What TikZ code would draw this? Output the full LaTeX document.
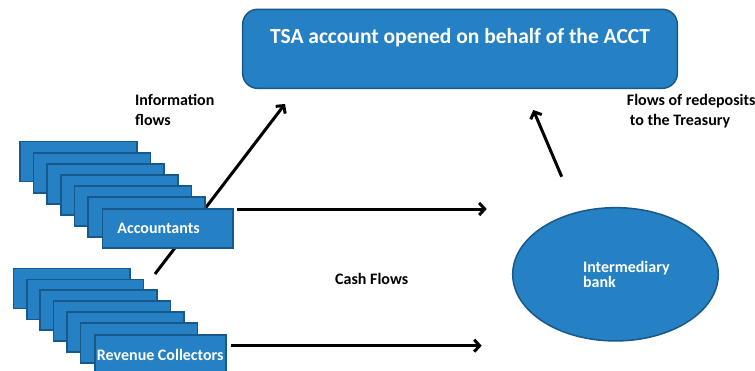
\documentclass[tikz,border=0pt]{standalone}
\usepackage{fontspec}
\setmainfont{Carlito}
\usetikzlibrary{arrows.meta,shapes.geometric}
\definecolor{boxblue}{RGB}{37,129,196}
\definecolor{boxedge}{RGB}{24,88,138}
\begin{document}
\begin{tikzpicture}[x=1pt,y=-1pt,
  card/.style={draw=boxedge, fill=boxblue, line width=1.5pt},
  front/.style={card, rectangle, inner ysep=0pt, anchor=north west, text=white, font=\bfseries\fontsize{16}{18}\selectfont},
  flow/.style={line width=3pt, -{Straight Barb[length=5.5pt,width=12pt]}},
  lbl/.style={font=\bfseries\fontsize{16}{20}\selectfont, inner sep=0pt, align=left}]
\useasboundingbox (0,0) rectangle (755,370);
% diagonal information flow (behind the accountant boxes)
\coordinate (dstart) at (155,274);
\coordinate (dend) at (285,104);
\draw[flow] (dstart) -- (dend);
% accountants stack
\foreach \i in {0,...,5}
  \draw[card] ({20+13.6*\i},{141.7+11.1*\i}) rectangle ++(117,40);
\node[front, minimum width=130.5pt, minimum height=39pt, inner xsep=15pt, text width=100.5pt, align=left] (acc) at (101.7,208.3) {Accountants};
% revenue collectors stack
\foreach \i in {0,...,5}
  \draw[card] ({13.3+13.45*\i},{268.3+10.95*\i}) rectangle ++(116.7,40);
\node[front, minimum width=131pt, minimum height=40pt, inner xsep=0pt] (rev) at (94,334) {Revenue Collectors};
% TSA box
\node[card, rounded corners=15pt, minimum width=434.6pt, minimum height=79pt, text=white,
  font=\bfseries\fontsize{21.5}{25}\selectfont, text height=15pt, text depth=26.6pt, inner sep=0pt]
  (tsa) at (460,48.8) {TSA account opened on behalf of the ACCT};
% intermediary bank
\node[card, ellipse, minimum width=205.6pt, minimum height=133.3pt, inner sep=0pt, text=white,
  font=\bfseries\fontsize{16}{14.5}\selectfont, align=left, text width=109pt] (bank) at (615.5,274.3)
  {\hspace*{22pt}Intermediary\\\hspace*{22pt}bank};
% cash flow arrows
\coordinate (c1s) at (236.7,209);
\coordinate (c1e) at (486.7,209);
\coordinate (c2s) at (231,345.7);
\coordinate (c2e) at (481.7,345.7);
\draw[flow] (c1s) -- (c1e);
\draw[flow] (c2s) -- (c2e);
% redeposit arrow
\coordinate (rs) at (561.7,176.7);
\coordinate (re) at (533.3,110);
\draw[flow] (rs) -- (re);
% labels
\node[lbl, anchor=north west] (info) at (135,94.3) {Information\\flows};
\node[lbl, anchor=north west] (redep) at (626.7,94.3) {Flows of redeposits\\\hspace*{3pt}to the Treasury};
\node[lbl, anchor=base west] (cash) at (335,284) {Cash Flows};
\end{tikzpicture}
\end{document}
